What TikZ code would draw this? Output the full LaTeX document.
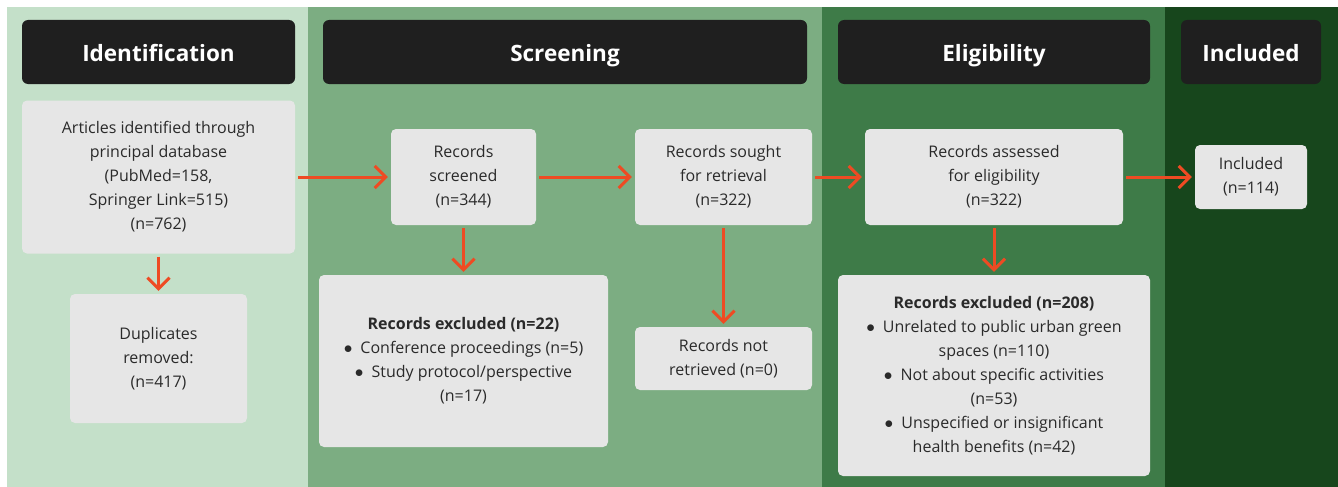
\documentclass[tikz,border=0pt]{standalone}
\usepackage{fontspec}
\setmainfont{Open Sans}
\usetikzlibrary{arrows.meta, positioning}
\definecolor{bandone}{HTML}{C4E0C9}
\definecolor{bandtwo}{HTML}{7CAD82}
\definecolor{bandthree}{HTML}{3E7B48}
\definecolor{bandfour}{HTML}{17461C}
\definecolor{headgray}{HTML}{1F1F1F}
\definecolor{boxgray}{HTML}{E6E6E6}
\definecolor{textgray}{HTML}{2A2A2A}
\definecolor{arrowred}{HTML}{EE4B23}

\begin{document}
\begin{tikzpicture}[x=1pt, y=-1pt,
  header/.style={rectangle, fill=headgray, rounded corners=6pt, text=white, minimum height=64pt, text height=21pt, text depth=1pt, font=\fontsize{22.5}{26}\selectfont\bfseries},
  box/.style={rectangle, fill=boxgray, rounded corners=5pt, align=center, text=textgray, inner sep=0pt, font=\fontsize{16}{24}\selectfont},
  arrow/.style={-{Straight Barb[length=11pt, width=22pt, line width=3pt]}, line width=3pt, draw=arrowred, shorten <=3pt, shorten >=3pt}
]
  \useasboundingbox (0,0) rectangle (1338,487);
  % phase bands
  \fill[bandone] (7,7) rectangle (308,487);
  \fill[bandtwo] (308,7) rectangle (822,487);
  \fill[bandthree] (822,7) rectangle (1165,487);
  \fill[bandfour] (1165,7) rectangle (1338,487);

  % headers
  \node[header, minimum width=273pt] (hident) at (158.5,52) {Identification};
  \node[header, minimum width=484pt] (hscreen) at (565,52) {Screening};
  \node[header, minimum width=312pt] (helig) at (994,52) {Eligibility};
  \node[header, minimum width=140pt] (hincl) at (1251,52) {Included};

  % boxes
  \node[box, minimum width=273pt, minimum height=153pt] (articles) at (158.5,177) {Articles identified through\\principal database\\(PubMed=158,\\Springer Link=515)\\(n=762)};
  \node[box, minimum width=177pt, minimum height=129pt] (dups) at (158.5,358.5) {Duplicates\\removed:\\(n=417)};
  \node[box, minimum width=145pt, minimum height=96pt] (screened) at (463.5,177) {Records\\screened\\(n=344)};
  \node[box, minimum width=289pt, minimum height=172pt] (exclone) at (463.5,361) {\textbf{Records excluded (n=22)}\\$\bullet$\enspace Conference proceedings (n=5)\\$\bullet$\enspace Study protocol/perspective\\(n=17)};
  \node[box, minimum width=177pt, minimum height=96pt] (sought) at (723.5,177) {Records sought\\for retrieval\\(n=322)};
  \node[box, minimum width=177pt, minimum height=63pt] (notret) at (723.5,358.5) {Records not\\retrieved (n=0)};
  \node[box, minimum width=258pt, minimum height=96pt] (assessed) at (994,177) {Records assessed\\for eligibility\\(n=322)};
  \node[box, minimum width=312pt, minimum height=201pt] (excltwo) at (994,375.5) {\textbf{Records excluded (n=208)}\\$\bullet$\enspace Unrelated to public urban green\\spaces (n=110)\\$\bullet$\enspace Not about specific activities\\(n=53)\\$\bullet$\enspace Unspecified or insignificant\\health benefits (n=42)};
  \node[box, minimum width=112pt, minimum height=64pt] (included) at (1251,177) {Included\\(n=114)};

  % flow
  \draw[arrow] (articles) -- (screened);
  \draw[arrow] (screened) -- (sought);
  \draw[arrow] (sought) -- (assessed);
  \draw[arrow] (assessed) -- (included);
  \draw[arrow] (articles) -- (dups);
  \draw[arrow] (screened) -- (exclone);
  \draw[arrow] (sought) -- (notret);
  \draw[arrow] (assessed) -- (excltwo);
\end{tikzpicture}
\end{document}
